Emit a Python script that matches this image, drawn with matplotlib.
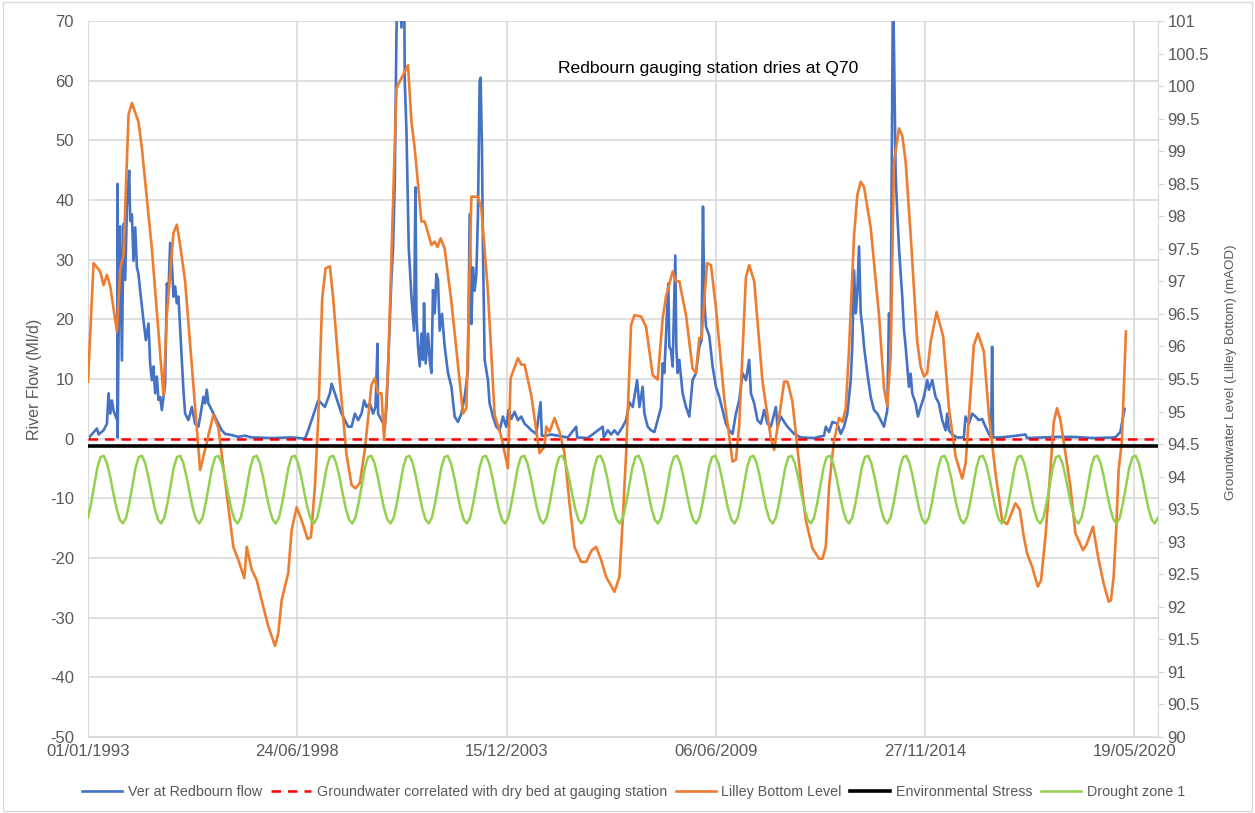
import numpy as np
import pandas as pd
import matplotlib
matplotlib.use("Agg")
import matplotlib.pyplot as plt
import matplotlib.dates as mdates
from matplotlib.patches import Rectangle

plt.rcParams['font.family'] = ['Liberation Sans', 'DejaVu Sans']
plt.rcParams['axes.unicode_minus'] = False

# --- data (decimal years) ---
flow_years = [
    1993.000, 1993.235, 1993.277, 1993.408, 1993.496, 1993.538, 1993.583, 1993.627, 1993.669, 1993.731,
    1993.770, 1993.773, 1993.776, 1993.800, 1993.844, 1993.888, 1993.930, 1993.974, 1994.019, 1994.045,
    1994.079, 1994.105, 1994.149, 1994.191, 1994.236, 1994.280, 1994.322, 1994.366, 1994.452, 1994.515,
    1994.583, 1994.627, 1994.672, 1994.714, 1994.758, 1994.803, 1994.844, 1994.889, 1994.933, 1994.975,
    1995.019, 1995.064, 1995.106, 1995.150, 1995.176, 1995.236, 1995.281, 1995.325, 1995.367, 1995.456,
    1995.497, 1995.542, 1995.628, 1995.717, 1995.803, 1995.889, 1995.934, 1996.020, 1996.064, 1996.109,
    1996.151, 1996.239, 1996.326, 1996.412, 1996.501, 1996.587, 1996.762, 1996.934, 1997.109, 1997.284,
    1997.807, 1998.329, 1998.677, 1998.763, 1998.852, 1998.938, 1999.024, 1999.113, 1999.199, 1999.330,
    1999.374, 1999.460, 1999.547, 1999.635, 1999.722, 1999.808, 1999.897, 1999.983, 2000.069, 2000.158,
    2000.226, 2000.288, 2000.375, 2000.461, 2000.523, 2000.576, 2000.591, 2000.680, 2000.766, 2000.811,
    2000.853, 2000.941, 2000.983, 2001.028, 2001.072, 2001.114, 2001.203, 2001.271, 2001.289, 2001.333,
    2001.359, 2001.393, 2001.464, 2001.532, 2001.568, 2001.594, 2001.636, 2001.681, 2001.725, 2001.767,
    2001.793, 2001.837, 2001.898, 2001.942, 2001.986, 2002.028, 2002.073, 2002.117, 2002.159, 2002.203,
    2002.263, 2002.334, 2002.420, 2002.509, 2002.595, 2002.681, 2002.770, 2002.856, 2002.942, 2002.987,
    2003.031, 2003.073, 2003.117, 2003.162, 2003.204, 2003.248, 2003.274, 2003.308, 2003.334, 2003.379,
    2003.465, 2003.509, 2003.596, 2003.684, 2003.771, 2003.857, 2003.945, 2004.006, 2004.076, 2004.162,
    2004.249, 2004.337, 2004.424, 2004.510, 2004.599, 2004.729, 2004.842, 2004.876, 2004.990, 2005.121,
    2005.294, 2005.555, 2005.774, 2005.800, 2006.077, 2006.469, 2006.495, 2006.600, 2006.689, 2006.775,
    2006.861, 2006.991, 2007.080, 2007.167, 2007.253, 2007.368, 2007.428, 2007.514, 2007.559, 2007.645,
    2007.733, 2007.820, 2007.906, 2007.995, 2008.036, 2008.081, 2008.151, 2008.185, 2008.211, 2008.256,
    2008.298, 2008.368, 2008.394, 2008.428, 2008.473, 2008.559, 2008.648, 2008.734, 2008.820, 2008.909,
    2008.995, 2009.055, 2009.092, 2009.126, 2009.170, 2009.257, 2009.343, 2009.431, 2009.518, 2009.604,
    2009.693, 2009.779, 2009.865, 2009.954, 2010.040, 2010.126, 2010.215, 2010.301, 2010.346, 2010.432,
    2010.518, 2010.607, 2010.693, 2010.779, 2010.868, 2010.999, 2011.041, 2011.130, 2011.216, 2011.302,
    2011.477, 2011.652, 2011.999, 2012.260, 2012.305, 2012.391, 2012.477, 2012.608, 2012.697, 2012.783,
    2012.869, 2012.958, 2013.000, 2013.044, 2013.089, 2013.130, 2013.175, 2013.219, 2013.261, 2013.306,
    2013.392, 2013.480, 2013.567, 2013.653, 2013.742, 2013.828, 2013.914, 2013.959, 2014.003, 2014.063,
    2014.133, 2014.175, 2014.219, 2014.264, 2014.306, 2014.350, 2014.395, 2014.436, 2014.481, 2014.525,
    2014.567, 2014.656, 2014.716, 2014.787, 2014.873, 2014.959, 2015.003, 2015.090, 2015.178, 2015.265,
    2015.351, 2015.439, 2015.481, 2015.526, 2015.612, 2015.743, 2015.918, 2015.962, 2016.049, 2016.135,
    2016.223, 2016.310, 2016.396, 2016.485, 2016.571, 2016.631, 2016.657, 2016.683, 2016.877, 2017.310,
    2017.530, 2017.571, 2018.355, 2018.747, 2019.313, 2019.880, 2020.011, 2020.098, 2020.123,
]
flow_values = [
    0.0, 1.7, 0.7, 1.4, 2.5, 7.6, 4.2, 6.4, 4.7, 3.6,
    3.0, 42.7, 0.2, 16.5, 35.6, 13.1, 36.0, 26.6, 38.8, 42.1,
    44.9, 36.5, 37.6, 29.8, 35.4, 28.7, 27.6, 24.8, 19.8, 16.5,
    19.3, 12.6, 9.8, 12.1, 7.6, 10.4, 6.5, 7.0, 4.8, 7.0,
    9.2, 26.0, 24.4, 32.8, 32.2, 23.8, 25.5, 22.7, 23.8, 13.2,
    8.2, 4.2, 3.1, 5.3, 2.5, 2.0, 3.6, 7.0, 5.9, 8.2,
    5.9, 4.8, 3.6, 2.5, 1.4, 0.8, 0.6, 0.3, 0.5, 0.2,
    0.1, 0.2, 0.0, 1.4, 3.1, 4.8, 6.4, 5.9, 5.3, 7.6,
    9.2, 7.6, 5.9, 4.2, 3.1, 2.0, 2.0, 4.2, 3.1, 4.2,
    6.4, 5.3, 5.9, 4.2, 5.3, 15.9, 4.2, 3.1, 2.0, 5.3,
    12.1, 27.0, 32.0, 43.2, 68.3, 78.0, 68.9, 78.0, 59.9, 51.6,
    43.2, 32.0, 23.7, 18.1, 42.1, 20.9, 15.4, 12.1, 17.6, 13.2,
    22.7, 12.6, 17.6, 13.2, 11.0, 24.9, 21.0, 27.6, 26.6, 18.1,
    20.9, 15.4, 11.0, 8.7, 3.7, 2.8, 4.2, 7.0, 11.4, 37.6,
    19.2, 28.7, 24.8, 27.6, 37.6, 59.9, 60.5, 48.8, 32.0, 13.2,
    9.8, 5.9, 3.7, 2.0, 1.4, 3.7, 2.0, 4.8, 3.3, 4.5,
    3.1, 3.7, 2.5, 2.0, 1.4, 0.8, 6.1, 0.5, 0.5, 0.7,
    0.5, 0.2, 2.0, 0.2, 0.1, 2.0, 0.2, 1.4, 0.7, 1.4,
    0.7, 2.0, 3.1, 6.1, 5.3, 9.8, 5.3, 8.7, 4.2, 2.0,
    1.4, 1.1, 3.1, 5.3, 12.6, 11.0, 21.0, 26.0, 15.4, 14.8,
    12.1, 30.7, 15.4, 11.0, 13.2, 7.6, 5.3, 3.7, 9.8, 11.0,
    15.4, 16.5, 38.9, 23.3, 18.8, 17.2, 12.1, 8.7, 7.0, 4.8,
    2.5, 1.4, 0.8, 4.2, 6.4, 11.0, 9.8, 13.2, 7.6, 5.9,
    3.1, 2.5, 4.8, 2.5, 2.0, 5.3, 2.0, 3.7, 2.8, 2.0,
    0.8, 0.2, 0.1, 0.5, 2.0, 1.1, 2.8, 2.5, 0.8, 2.0,
    4.2, 9.8, 15.9, 28.2, 21.0, 24.4, 32.2, 21.0, 18.8, 15.4,
    11.0, 7.0, 4.8, 4.2, 3.1, 2.0, 4.8, 21.0, 16.5, 78.0,
    44.4, 37.8, 32.2, 27.7, 23.8, 18.3, 15.4, 12.1, 8.7, 10.9,
    7.6, 5.9, 3.7, 5.3, 7.0, 9.8, 8.2, 9.8, 7.0, 5.9,
    3.1, 1.4, 4.2, 1.4, 0.7, 0.2, 0.2, 3.7, 2.5, 4.2,
    3.7, 3.1, 3.3, 2.0, 0.8, 0.2, 15.4, 0.2, 0.2, 0.5,
    0.7, 0.1, 0.3, 0.3, 0.1, 0.2, 1.1, 4.2, 5.0,
]

level_years = [
    1993.000, 1993.146, 1993.321, 1993.408, 1993.496, 1993.583, 1993.758, 1993.844, 1993.930, 1994.061,
    1994.149, 1994.322, 1994.411, 1994.672, 1994.975, 1995.064, 1995.236, 1995.325, 1995.411, 1995.542,
    1995.934, 1996.281, 1996.412, 1996.673, 1996.804, 1996.934, 1997.091, 1997.154, 1997.284, 1997.415,
    1997.545, 1997.718, 1997.893, 1997.979, 1998.068, 1998.240, 1998.329, 1998.460, 1998.590, 1998.747,
    1998.833, 1998.938, 1999.024, 1999.129, 1999.217, 1999.330, 1999.416, 1999.591, 1999.766, 1999.897,
    2000.001, 2000.113, 2000.244, 2000.419, 2000.505, 2000.592, 2000.680, 2000.748, 2000.853, 2001.072,
    2001.375, 2001.464, 2001.550, 2001.725, 2001.811, 2001.986, 2002.073, 2002.143, 2002.229, 2002.334,
    2002.509, 2002.812, 2002.901, 2003.031, 2003.204, 2003.293, 2003.465, 2003.640, 2003.815, 2003.988,
    2004.058, 2004.249, 2004.338, 2004.424, 2004.599, 2004.816, 2004.946, 2004.991, 2005.077, 2005.207,
    2005.338, 2005.469, 2005.599, 2005.730, 2005.905, 2006.036, 2006.182, 2006.297, 2006.427, 2006.558,
    2006.775, 2006.906, 2006.992, 2007.081, 2007.211, 2007.298, 2007.473, 2007.603, 2007.776, 2007.906,
    2008.037, 2008.126, 2008.298, 2008.387, 2008.473, 2008.648, 2008.820, 2008.909, 2008.995, 2009.055,
    2009.197, 2009.301, 2009.432, 2009.648, 2009.865, 2009.954, 2010.040, 2010.215, 2010.301, 2010.432,
    2010.649, 2010.868, 2010.954, 2011.130, 2011.216, 2011.302, 2011.433, 2011.652, 2011.783, 2011.955,
    2012.130, 2012.217, 2012.305, 2012.391, 2012.522, 2012.653, 2012.739, 2012.828, 2012.914, 2013.045,
    2013.131, 2013.220, 2013.306, 2013.481, 2013.698, 2013.828, 2013.914, 2014.003, 2014.089, 2014.220,
    2014.306, 2014.395, 2014.526, 2014.698, 2014.787, 2014.873, 2014.960, 2015.049, 2015.205, 2015.378,
    2015.527, 2015.702, 2015.874, 2015.963, 2016.180, 2016.284, 2016.441, 2016.572, 2016.746, 2016.919,
    2017.050, 2017.268, 2017.381, 2017.486, 2017.572, 2017.702, 2017.851, 2017.938, 2018.053, 2018.183,
    2018.270, 2018.356, 2018.444, 2018.705, 2018.836, 2019.034, 2019.123, 2019.296, 2019.445, 2019.575,
    2019.706, 2019.766, 2019.837, 2019.907, 2019.967, 2020.053, 2020.158,
]
level_values = [
    95.46, 97.28, 97.15, 96.94, 97.10, 96.92, 96.23, 97.20, 97.40, 99.56,
    99.74, 99.45, 99.04, 97.50, 95.25, 96.48, 97.74, 97.87, 97.56, 97.00,
    94.10, 94.95, 94.75, 93.54, 92.92, 92.72, 92.44, 92.92, 92.57, 92.41,
    92.10, 91.70, 91.40, 91.59, 92.10, 92.52, 93.18, 93.53, 93.33, 93.04,
    93.07, 93.85, 94.87, 96.74, 97.20, 97.23, 96.74, 95.46, 94.33, 93.87,
    93.82, 93.90, 94.41, 95.41, 95.51, 95.28, 95.28, 94.56, 95.66, 99.97,
    100.32, 99.45, 99.04, 97.92, 97.92, 97.56, 97.61, 97.53, 97.66, 97.50,
    96.69, 94.97, 95.05, 98.30, 98.30, 98.12, 96.84, 94.95, 94.61, 94.13,
    95.51, 95.82, 95.72, 95.72, 95.25, 94.36, 94.46, 94.77, 94.69, 94.90,
    94.69, 94.36, 93.59, 92.92, 92.69, 92.69, 92.87, 92.92, 92.72, 92.46,
    92.23, 92.46, 93.33, 94.36, 96.33, 96.48, 96.46, 96.30, 95.56, 95.49,
    96.43, 96.77, 97.15, 97.00, 97.00, 96.48, 95.66, 95.59, 96.13, 96.13,
    97.28, 97.25, 96.59, 95.20, 94.23, 94.26, 94.79, 97.06, 97.25, 97.00,
    95.46, 94.59, 94.41, 95.10, 95.46, 95.46, 95.15, 93.95, 93.33, 92.90,
    92.74, 92.74, 92.92, 93.85, 94.56, 94.90, 94.84, 95.05, 95.97, 97.71,
    98.33, 98.53, 98.45, 97.82, 96.48, 95.36, 95.08, 95.87, 98.83, 99.35,
    99.24, 98.84, 97.71, 96.07, 95.69, 95.54, 95.59, 96.07, 96.53, 96.15,
    95.05, 94.31, 93.97, 94.20, 96.02, 96.20, 95.92, 94.95, 94.05, 93.33,
    93.27, 93.59, 93.49, 93.08, 92.82, 92.62, 92.31, 92.41, 93.08, 94.10,
    94.84, 95.05, 94.87, 93.85, 93.13, 92.87, 92.95, 93.23, 92.72, 92.36,
    92.08, 92.10, 92.46, 93.23, 94.10, 94.54, 96.23,
]

# drought zone 1: same seasonal profile every year (1st of each month, mAOD)
drought_month_profile = [93.37, 93.60, 93.86, 94.14, 94.30, 94.32, 94.21, 94.00, 93.74, 93.51, 93.34, 93.28]
first_year, last_year = 1993, 2020

dry_bed_level = 94.58        # mAOD
env_stress_level = 94.47     # mAOD

start = pd.Timestamp('1993-01-01')
end = pd.Timestamp('2020-12-31')


def to_dates(years):
    years = np.asarray(years, dtype=float)
    return start + pd.to_timedelta((years - 1993.0) * 365.25, unit='D')


flow_dates = to_dates(flow_years)
level_dates = to_dates(level_years)
drought_dates = pd.date_range('1993-01-01', '2021-01-01', freq='MS')
n_years = last_year - first_year + 1
drought_vals = np.append(np.tile(drought_month_profile, n_years), drought_month_profile[0])

blue = '#4472C4'
orange = '#ED7D31'
green = '#92D050'
grid_c = '#D9D9D9'
text_c = '#595959'

fig = plt.figure(figsize=(12.55, 8.13), dpi=100)
ax = fig.add_axes([0.0701, 0.0935, 0.8526, 0.8807])
ax2 = ax.twinx()

l1, = ax.plot(flow_dates, flow_values, color=blue, lw=1.9, label='Ver at Redbourn flow')
l2, = ax2.plot([start, end], [dry_bed_level, dry_bed_level], color='#FF0000', lw=1.8,
               dashes=(3.8, 2.8), label='Groundwater correlated with dry bed at gauging station')
l3, = ax2.plot(level_dates, level_values, color=orange, lw=1.9, label='Lilley Bottom Level')
l4, = ax2.plot([start, end], [env_stress_level, env_stress_level], color='black', lw=2.6,
               label='Environmental Stress')
l5, = ax2.plot(drought_dates, drought_vals, color=green, lw=1.8, label='Drought zone 1')

ax.set_xlim(start, end)
ax.set_ylim(-50, 70)
ax.set_yticks(np.arange(-50, 71, 10))
ax2.set_ylim(90, 101)
ax2.set_yticks(np.arange(90, 101.01, 0.5))
ax2.yaxis.set_major_formatter(plt.FuncFormatter(lambda v, p: f'{v:g}'))

xticks = pd.date_range('1993-01-01', periods=6, freq='2000D')
ax.set_xticks(xticks)
ax.xaxis.set_major_formatter(mdates.DateFormatter('%d/%m/%Y'))

ax.grid(True, color=grid_c, lw=1.2)
ax.set_axisbelow(True)
ax.spines['top'].set_visible(False)
ax2.spines['top'].set_visible(False)
ax.spines['left'].set_color(grid_c)
ax.spines['bottom'].set_color(grid_c)
ax.spines['right'].set_visible(False)
ax2.spines['left'].set_visible(False)
ax2.spines['bottom'].set_visible(False)
ax2.spines['right'].set_color(grid_c)

ax.tick_params(axis='y', length=0, labelsize=12, labelcolor=text_c, pad=10)
ax.tick_params(axis='x', length=0, labelsize=12, labelcolor=text_c, pad=5)
ax2.tick_params(axis='y', length=4, color=grid_c, labelsize=12, labelcolor=text_c, pad=3)

ax.set_ylabel('River Flow (Ml/d)', fontsize=11.5, color=text_c)
ax.yaxis.set_label_coords(-0.043, 0.5)
ax2.set_ylabel('Groundwater Level (Lilley Bottom) (mAOD)', fontsize=9.6, color=text_c)
ax2.yaxis.set_label_coords(1.0626, 0.51)

ax.text(0.5794, 0.934, 'Redbourn gauging station dries at Q70', transform=ax.transAxes,
        ha='center', va='center', fontsize=12.6, color='black')

fig.legend(handles=[l1, l2, l3, l4, l5], loc='center', bbox_to_anchor=(0.505, 0.026), ncol=5,
           frameon=False, fontsize=10.3, labelcolor=text_c, handlelength=2.8, columnspacing=0.6,
           handletextpad=0.4)

fig.add_artist(Rectangle((0.002, 0.002), 0.996, 0.996, transform=fig.transFigure,
                         fill=False, edgecolor=grid_c, lw=1))

fig.savefig('out.png', dpi=100)
